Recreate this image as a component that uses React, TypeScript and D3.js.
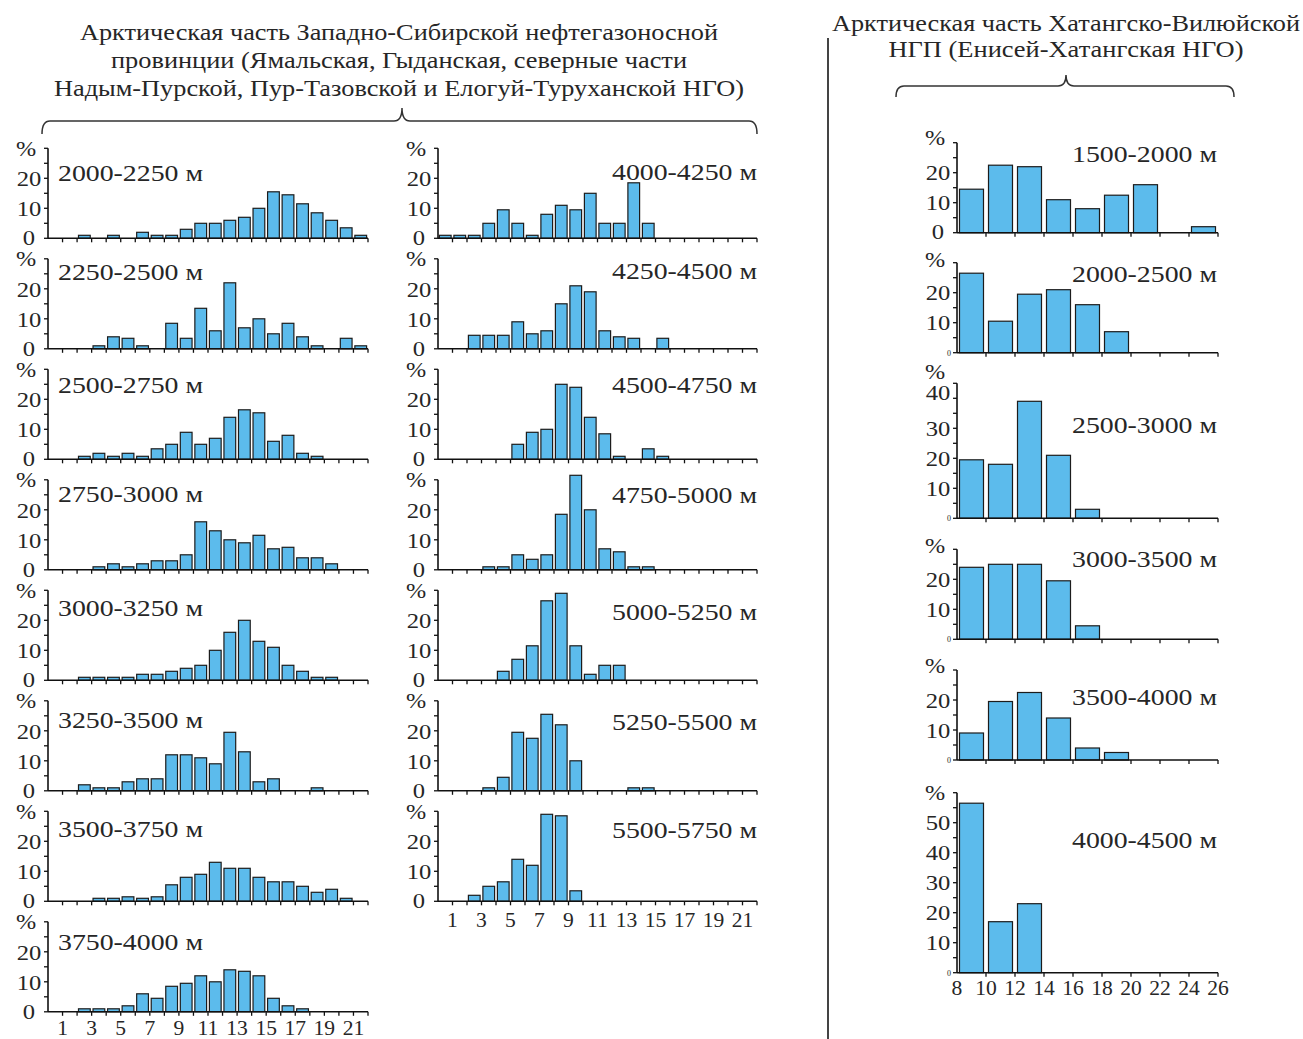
import React from "react";
import * as d3 from "d3";

const FONT = '"Liberation Serif", "Times New Roman", serif';
const INK = "#262626";
const BAR = "#5cbbec";

// ---------- data ----------
// West-Siberian: 22 bins [i, i+1], i = 0..21
const westBinStarts = d3.range(0, 22);
const westTickLabels = [1, 3, 5, 7, 9, 11, 13, 15, 17, 19, 21];
// East (Khatanga-Vilyui): 9 bins of width 2 starting at 8
const eastBinStarts = [8, 10, 12, 14, 16, 18, 20, 22, 24];
const eastTickLabels = [8, 10, 12, 14, 16, 18, 20, 22, 24, 26];

const leftLabels = ["2000-2250 м", "2250-2500 м", "2500-2750 м", "2750-3000 м", "3000-3250 м", "3250-3500 м", "3500-3750 м", "3750-4000 м"];
const w2000_2250 = [0, 0, 1, 0, 1, 0, 2, 1, 1, 3, 5, 5, 6, 7, 10, 15.5, 14.5, 11.5, 8.5, 6, 3.5, 1];
const w2250_2500 = [0, 0, 0, 1, 4, 3.5, 1, 0, 8.5, 3.5, 13.5, 6, 22, 7, 10, 5, 8.5, 4, 1, 0, 3.5, 1];
const w2500_2750 = [0, 0, 1, 2, 1, 2, 1, 3.5, 5, 9, 5, 7, 14, 16.5, 15.5, 6, 8, 2, 1, 0, 0, 0];
const w2750_3000 = [0, 0, 0, 1, 2, 1, 2, 3, 3, 5, 16, 13, 10, 9, 11.5, 7, 7.5, 4, 4, 2, 0, 0];
const w3000_3250 = [0, 0, 1, 1, 1, 1, 2, 2, 3, 4, 5, 10, 16, 20, 13, 11, 5, 3, 1, 1, 0, 0];
const w3250_3500 = [0, 0, 2, 1, 1, 3, 4, 4, 12, 12, 11, 9, 19.5, 13, 3, 4, 0, 0, 1, 0, 0, 0];
const w3500_3750 = [0, 0, 0, 1, 1, 1.5, 1, 1.5, 5.5, 8, 9, 13, 11, 11, 8, 6.5, 6.5, 5, 3, 4, 1, 0];
const w3750_4000 = [0, 0, 1, 1, 1, 2, 6, 4.5, 8.5, 9.5, 12, 10, 14, 13.5, 12, 4.5, 2, 1, 0, 0, 0, 0];

const midLabels = ["4000-4250 м", "4250-4500 м", "4500-4750 м", "4750-5000 м", "5000-5250 м", "5250-5500 м", "5500-5750 м"];
const m4000_4250 = [1, 1, 1, 5, 9.5, 5, 1, 8, 11, 9.5, 15, 5, 5, 18.5, 5, 0, 0, 0, 0, 0, 0, 0];
const m4250_4500 = [0, 0, 4.5, 4.5, 4.5, 9, 5, 6, 15, 21, 19, 6, 4, 3.5, 0, 3.5, 0, 0, 0, 0, 0, 0];
const m4500_4750 = [0, 0, 0, 0, 0, 5, 9, 10, 25, 24, 14, 8.5, 1, 0, 3.5, 1, 0, 0, 0, 0, 0, 0];
const m4750_5000 = [0, 0, 0, 1, 1, 5, 3.5, 5, 18.5, 31.5, 20, 7, 6, 1, 1, 0, 0, 0, 0, 0, 0, 0];
const m5000_5250 = [0, 0, 0, 0, 3, 7, 11.5, 26.5, 29, 11.5, 2, 5, 5, 0, 0, 0, 0, 0, 0, 0, 0, 0];
const m5250_5500 = [0, 0, 0, 1, 4.5, 19.5, 17.5, 25.5, 22, 10, 0, 0, 0, 1, 1, 0, 0, 0, 0, 0, 0, 0];
const m5500_5750 = [0, 0, 2, 5, 6.5, 14, 12, 29, 28.5, 3.5, 0, 0, 0, 0, 0, 0, 0, 0, 0, 0, 0, 0];

const rightLabels = ["1500-2000 м", "2000-2500 м", "2500-3000 м", "3000-3500 м", "3500-4000 м", "4000-4500 м"];
const e1500_2000 = [14.5, 22.5, 22, 11, 8, 12.5, 16, 0, 2];
const e2000_2500 = [26.5, 10.5, 19.5, 21, 16, 7, 0, 0, 0];
const e2500_3000 = [19.5, 18, 39, 21, 3, 0, 0, 0, 0];
const e3000_3500 = [24, 25, 25, 19.5, 4.5, 0, 0, 0, 0];
const e3500_4000 = [9, 19.5, 22.5, 14, 4, 2.5, 0, 0, 0];
const e4000_4500 = [56.5, 17, 23, 0, 0, 0, 0, 0, 0];
const rightMax = [30, 30, 45, 30, 30, 60];

const westTitle = [
  "Арктическая часть Западно-Сибирской нефтегазоносной",
  "провинции (Ямальская, Гыданская, северные части",
  "Надым-Пурской, Пур-Тазовской и Елогуй-Туруханской НГО)",
];
const eastTitle = ["Арктическая часть Хатангско-Вилюйской", "НГП (Енисей-Хатангская НГО)"];

const leftSeries = [w2000_2250, w2250_2500, w2500_2750, w2750_3000, w3000_3250, w3250_3500, w3500_3750, w3750_4000];
const midSeries = [m4000_4250, m4250_4500, m4500_4750, m4750_5000, m5000_5250, m5250_5500, m5500_5750];
const rightSeries = [e1500_2000, e2000_2500, e2500_3000, e3000_3500, e3500_4000, e4000_4500];

// ---------- layout ----------
const PX = 3; // px per percent
const colBaselines = d3.range(8).map((i) => 238.3 + i * 110.5);
const leftLabelY = [181, 280, 393, 502, 616, 728, 837, 950];
const midLabelY = [180, 279, 393, 503, 620, 730, 838];
const rightBaselines = [232.7, 352.7, 518.3, 639.3, 760, 972.7];
const rightLabelY = [162, 282, 433, 567, 705, 848];
const rightPctDy = [-4, -2, -11, -3, -4, 1];
const rightTopLabelDy = [0, 0, -6, 0, 0, 0];

function Txt({ x, y, anchor = "start", size = 23, sx = 1, len, children, dy }: any) {
  return (
    <text
      transform={`translate(${x},${y}) scale(${sx},1)`}
      textAnchor={anchor}
      fontSize={size}
      fontFamily={FONT}
      fill={INK}
      dy={dy}
      textLength={len}
      lengthAdjust={len ? "spacingAndGlyphs" : undefined}
    >
      {children}
    </text>
  );
}

function Panel({ values, binStarts, binW, xDomain, xRange, baseline, yMax, label, labelX, labelY, labelAnchor, xTicks, xLabels, xLabelDy, tinyZero, inset, pctDy = 1, topLabelDy = 0 }: any) {
  const x = d3.scaleLinear().domain(xDomain).range(xRange);
  const y = d3.scaleLinear().domain([0, yMax]).range([baseline, baseline - yMax * PX]);
  const ax = xRange[0];
  const yTicks = d3.range(0, yMax + 0.01, 5);
  const yLabels = d3.range(10, yMax - 0.01, 10);
  const topLab = yLabels[yLabels.length - 1];
  return (
    <g>
      {values.map((v: number, i: number) =>
        v > 0 ? (
          <rect
            key={i}
            x={x(binStarts[i]) + inset}
            y={y(v)}
            width={x(binStarts[i] + binW) - x(binStarts[i]) - 2 * inset}
            height={baseline - y(v)}
            fill={BAR}
            stroke="#1c1c1c"
            strokeWidth={1.2}
          />
        ) : null
      )}
      <line x1={ax} x2={xRange[1]} y1={baseline} y2={baseline} stroke="#111" strokeWidth={1.6} />
      <line x1={ax} x2={ax} y1={baseline} y2={y(yMax)} stroke="#111" strokeWidth={1.6} />
      {yTicks.map((t: number) => (
        <line key={"yt" + t} x1={ax - 4} x2={ax} y1={y(t)} y2={y(t)} stroke="#111" strokeWidth={1.3} />
      ))}
      {xTicks.map((t: number) => (
        <line key={"xt" + t} x1={x(t)} x2={x(t)} y1={baseline} y2={baseline + 4} stroke="#111" strokeWidth={1.3} />
      ))}
      {yLabels.map((t: number) => (
        <Txt key={"yl" + t} x={ax - 19} y={y(t) + (t === topLab ? topLabelDy : 0)} dy="0.35em" anchor="middle" size={22} sx={1.12}>
          {t}
        </Txt>
      ))}
      {tinyZero ? (
        <Txt x={ax - 8} y={baseline} dy="0.35em" anchor="middle" size={8}>0</Txt>
      ) : (
        <Txt x={ax - 19} y={baseline - 1} dy="0.35em" anchor="middle" size={22} sx={1.12}>0</Txt>
      )}
      <Txt x={ax - 22} y={y(yMax) + pctDy} dy="0.3em" anchor="middle" size={22} sx={1.1}>%</Txt>
      <Txt x={labelX} y={labelY} anchor={labelAnchor} len={145}>{label}</Txt>
      {xLabels &&
        xLabels.map((t: number) => (
          <Txt key={"xl" + t} x={x(t)} y={baseline + xLabelDy} anchor="middle" size={22} sx={0.98}>
            {t}
          </Txt>
        ))}
    </g>
  );
}

function brace(x0: number, x1: number, tip: number, yEnd: number, yLine: number, yTip: number) {
  const r = 8;
  return `M${x0},${yEnd} Q${x0},${yLine} ${x0 + r},${yLine} L${tip - r},${yLine} Q${tip},${yLine} ${tip},${yTip} Q${tip},${yLine} ${tip + r},${yLine} L${x1 - r},${yLine} Q${x1},${yLine} ${x1},${yEnd}`;
}

export default function App() {
  const westTicks = d3.range(1, 23);
  const eastTicks = d3.range(10, 27, 2);
  return (
    <svg width={1303} height={1039} style={{ position: "absolute", left: 0, top: 0, background: "#fff" }}>
      <rect width={1303} height={1039} fill="#fff" />
      {westTitle.map((t, i) => (
        <Txt key={t} x={399} y={40 + i * 28} anchor="middle" size={23} len={[638, 576, 690][i]}>
          {t}
        </Txt>
      ))}
      {eastTitle.map((t, i) => (
        <Txt key={t} x={1066} y={31 + i * 26} anchor="middle" size={23} len={[468, 355][i]}>
          {t}
        </Txt>
      ))}
      <path d={brace(42, 757, 402, 134, 121, 108)} fill="none" stroke="#333" strokeWidth={1.5} />
      <path d={brace(896, 1234, 1066, 97, 86, 75)} fill="none" stroke="#333" strokeWidth={1.5} />
      <line x1={828} x2={828} y1={38} y2={1039} stroke="#444" strokeWidth={2} />

      {leftSeries.map((vals, i) => (
        <Panel
          key={"L" + i}
          values={vals}
          binStarts={westBinStarts}
          binW={1}
          xDomain={[0, 22]}
          xRange={[48, 368]}
          baseline={colBaselines[i]}
          yMax={30}
          label={leftLabels[i]}
          labelX={58}
          labelY={leftLabelY[i]}
          labelAnchor="start"
          xTicks={westTicks}
          xLabels={i === leftSeries.length - 1 ? westTickLabels : null}
          xLabelDy={23}
          inset={1.4}
        />
      ))}
      {midSeries.map((vals, i) => (
        <Panel
          key={"M" + i}
          values={vals}
          binStarts={westBinStarts}
          binW={1}
          xDomain={[0, 22]}
          xRange={[438, 757]}
          baseline={colBaselines[i]}
          yMax={30}
          label={midLabels[i]}
          labelX={757}
          labelY={midLabelY[i]}
          labelAnchor="end"
          xTicks={westTicks}
          xLabels={i === midSeries.length - 1 ? westTickLabels : null}
          xLabelDy={26}
          inset={1.4}
        />
      ))}
      {rightSeries.map((vals, i) => (
        <Panel
          key={"R" + i}
          values={vals}
          binStarts={eastBinStarts}
          binW={2}
          xDomain={[8, 26]}
          xRange={[957, 1218]}
          baseline={rightBaselines[i]}
          yMax={rightMax[i]}
          label={rightLabels[i]}
          labelX={1217}
          labelY={rightLabelY[i]}
          labelAnchor="end"
          xTicks={eastTicks}
          xLabels={i === rightSeries.length - 1 ? eastTickLabels : null}
          xLabelDy={22}
          tinyZero={i > 0}
          inset={2.5}
          pctDy={rightPctDy[i]}
          topLabelDy={rightTopLabelDy[i]}
        />
      ))}
    </svg>
  );
}
